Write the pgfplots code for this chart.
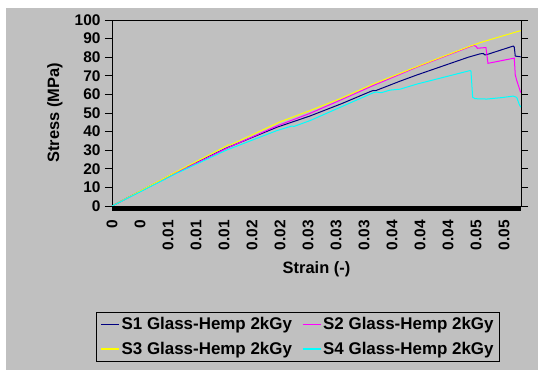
\documentclass[border=0pt]{standalone}
\usepackage{fontspec}
\setmainfont{Liberation Sans}
\usepackage{pgfplots}
\pgfplotsset{compat=1.18}

\definecolor{chartgray}{RGB}{192,192,192}
\definecolor{sone}{RGB}{0,0,128}
\definecolor{stwo}{RGB}{255,0,255}
\definecolor{sthree}{RGB}{255,255,0}
\definecolor{sfour}{RGB}{0,255,255}

\begin{document}
\begin{tikzpicture}
% chart area
\fill[white] (-112bp,206bp) rectangle (426bp,-164bp);
\fill[chartgray] (-106bp,198bp) rectangle (426bp,-164bp);
\begin{axis}[
  at={(0,0)}, anchor=south west,
  scale only axis, width=409bp, height=186bp,
  xmin=0, xmax=0.05346, ymin=0, ymax=100,
  axis line style={black, line width=0.8bp},
  ytick={0,10,...,100},
  tick align=outside,
  major tick length=7bp,
  tick style={black, line width=0.8bp},
  scaled x ticks=false,
  xtick={0,0.00366,0.00732,0.01098,0.01464,0.0183,0.02196,0.02562,0.02928,0.03294,0.0366,0.04026,0.04392,0.04758,0.05124},
  xticklabels={0,0,0.01,0.01,0.01,0.02,0.02,0.03,0.03,0.03,0.04,0.04,0.04,0.05,0.05},
  x tick style={draw=none},
  /pgf/number format/assume math mode=true,
  yticklabel style={font=\bfseries\fontsize{15.5}{17}\selectfont, anchor=east, xshift=-1bp},
  xticklabel style={font=\bfseries\fontsize{15.5}{17}\selectfont, rotate=90, anchor=east, inner sep=0bp},
  xticklabel shift=7bp,
  ylabel={Stress (MPa)},
  xlabel={Strain (-)},
  ylabel style={font=\bfseries\fontsize{16.5}{19}\selectfont, at={(axis description cs:-0.1394,0.5)}, anchor=center},
  xlabel style={font=\bfseries\fontsize{16.5}{19}\selectfont, at={(axis description cs:0.5,-0.3387)}, anchor=center},
  legend columns=2,
  legend cell align=left,
  legend style={at={(axis description cs:-0.0391,-0.5699)}, anchor=north west,
    draw=black, line width=0.8bp, fill=chartgray,
    font=\bfseries\fontsize{17}{19}\selectfont,
    inner xsep=4bp, inner ysep=3bp, row sep=7bp,
    /tikz/every even column/.append style={column sep=8bp}},
  legend image code/.code={\draw[#1, line width=1.2bp] (0bp,0bp) -- (18bp,0bp);},
  every axis plot/.append style={line width=1bp},
]
\addplot[sone] coordinates {
  (0,0) (0.00846,18.2) (0.01499,31.2) (0.02153,42.3) (0.02588,48.4)
  (0.0300,55.0) (0.03380,61.6) (0.03415,62.1) (0.03445,62.0) (0.03764,67.1)
  (0.03982,70.4) (0.04657,80.0) (0.0481,81.8) (0.04853,82.0) (0.04875,81.2)
  (0.04914,81.6) (0.05245,86.0) (0.05258,85.4) (0.05271,80.6) (0.05342,80.2)
};
\addlegendentry{S1 Glass-Hemp 2kGy}
\addplot[stwo] coordinates {
  (0,0) (0.00846,18.0) (0.01499,31.0) (0.02153,43.0) (0.02588,49.8)
  (0.0300,57.2) (0.03415,64.8) (0.03764,70.8) (0.03982,74.6) (0.04657,85.3)
  (0.04731,86.4) (0.04760,85.8) (0.04775,84.8) (0.04888,85.2) (0.04914,76.7)
  (0.05245,79.4) (0.05258,79.5) (0.05271,70.5) (0.05290,67.5) (0.05342,61.0)
};
\addlegendentry{S2 Glass-Hemp 2kGy}
\addplot[sthree] coordinates {
  (0,0) (0.00846,18.5) (0.01499,32.3) (0.0152,32.9) (0.0155,32.9)
  (0.02153,44.4) (0.0218,45.0) (0.02588,51.3) (0.0300,58.0) (0.03415,65.6)
  (0.03764,71.3) (0.03982,74.9) (0.04657,85.6) (0.0481,87.8) (0.04897,88.9)
  (0.05342,94.3)
};
\addlegendentry{S3 Glass-Hemp 2kGy}
\addplot[sfour] coordinates {
  (0,0) (0.00846,17.6) (0.01499,30.1) (0.02153,40.5) (0.0235,43.0)
  (0.0238,42.8) (0.02588,45.9) (0.03415,60.9) (0.0345,61.3) (0.0352,60.9)
  (0.03633,62.3) (0.03764,62.8) (0.0399,65.6) (0.04679,72.8) (0.04692,72.5)
  (0.04714,58.5) (0.04744,57.7) (0.0490,57.5) (0.0510,58.3) (0.05245,59.1)
  (0.05290,58.4) (0.05320,55.0) (0.05342,53.2)
};
\addlegendentry{S4 Glass-Hemp 2kGy}
\end{axis}
% dense category tick marks along the strain axis
\fill[black] (0,0) rectangle (409bp,-5bp);
\end{tikzpicture}
\end{document}
